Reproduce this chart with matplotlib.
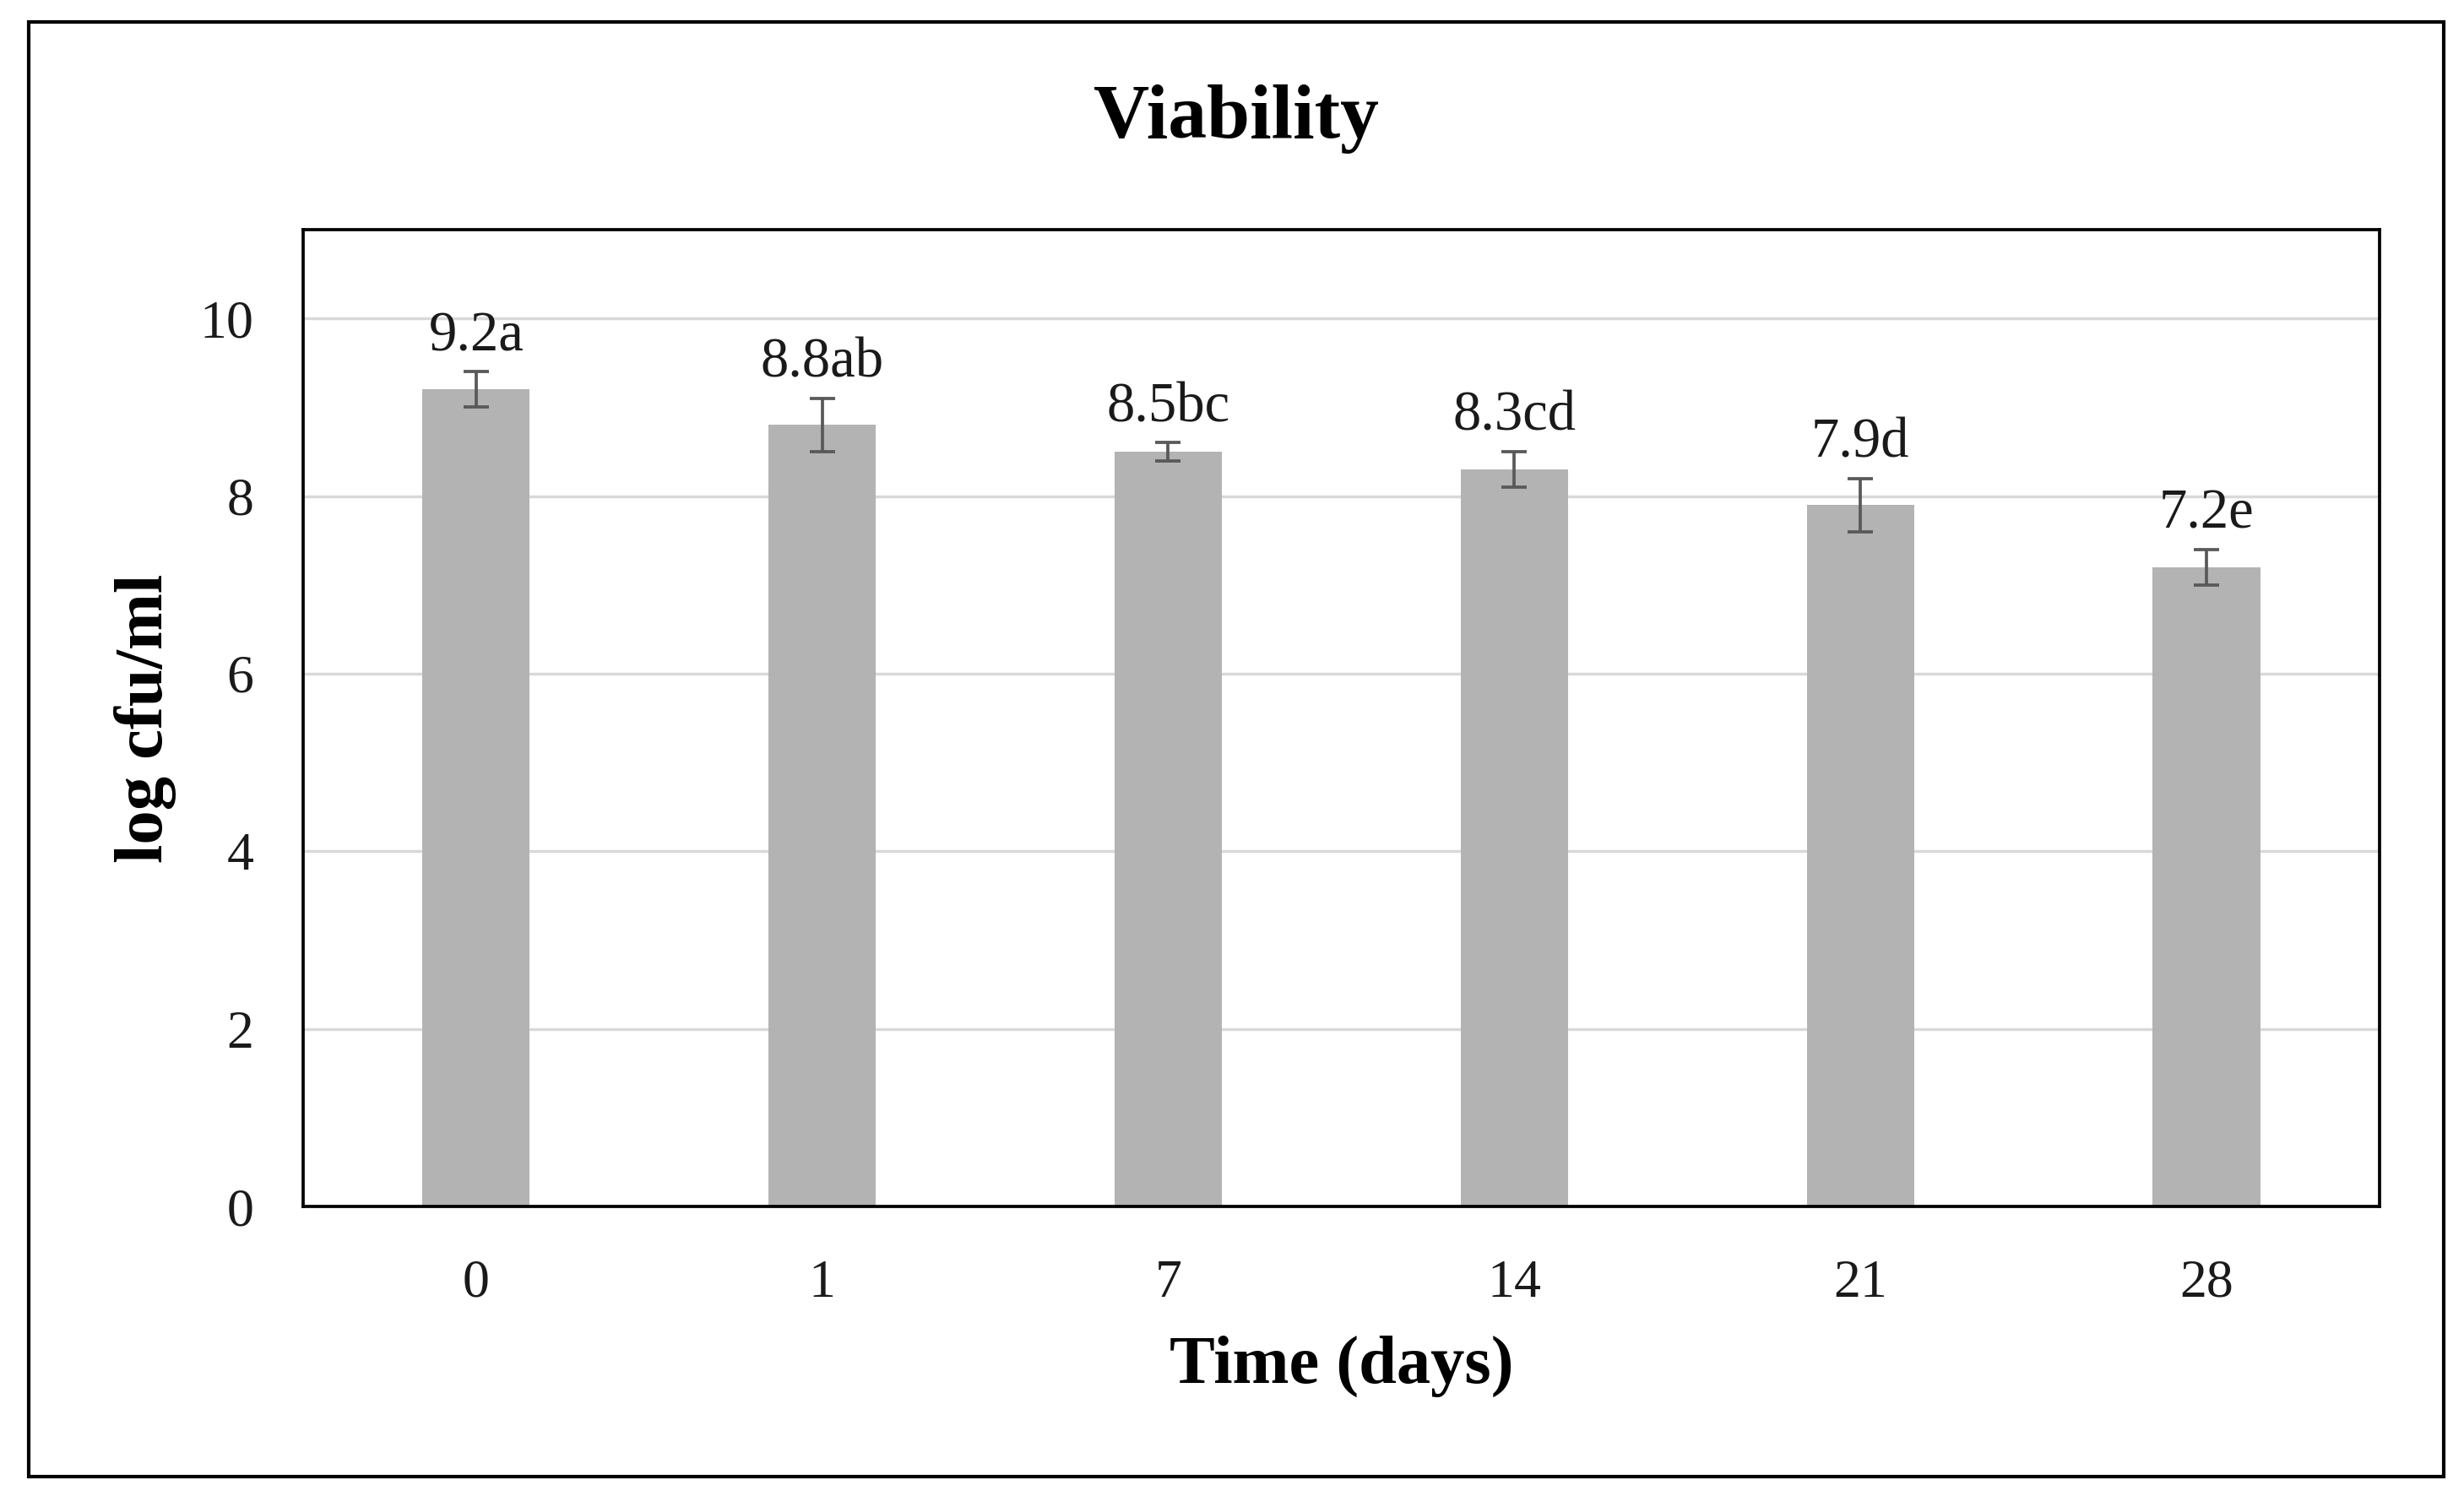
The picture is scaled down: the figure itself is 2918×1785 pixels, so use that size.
import matplotlib
matplotlib.use("Agg")
import matplotlib.pyplot as plt
from matplotlib.patches import Rectangle

categories = ["0", "1", "7", "14", "21", "28"]
values = [9.2, 8.8, 8.5, 8.3, 7.9, 7.2]
errors = [0.2, 0.3, 0.1, 0.2, 0.3, 0.2]
letters = ["a", "ab", "bc", "cd", "d", "e"]
yticks = [0, 2, 4, 6, 8, 10]

plt.rcParams['font.family'] = ['Liberation Serif', 'DejaVu Serif']

fig = plt.figure(figsize=(29.18, 17.85), dpi=100)
ax = fig.add_axes([0.123, 0.1994, 0.8427, 0.6482])

x = list(range(len(categories)))
ax.bar(x, values, width=0.31, color="#b3b3b3", zorder=2)
ax.errorbar(x, values, yerr=errors, fmt="none", ecolor="#595959",
            elinewidth=2.7, capsize=11, capthick=2.7, zorder=3)

for xi, v, e, l in zip(x, values, errors, letters):
    ax.annotate(f"{v:.1f}{l}", xy=(xi, v + e), xytext=(0, 18),
                textcoords="offset points", ha="center", va="baseline",
                fontsize=48, color="#1a1a1a")

ax.set_xlim(-0.5, len(categories) - 0.5)
ax.set_ylim(0, 11)
ax.set_yticks(yticks)
ax.set_xticks(x)
ax.set_xticklabels(categories)
ax.yaxis.grid(True, color="#d9d9d9", linewidth=2.5, zorder=0)
ax.set_axisbelow(True)
ax.tick_params(axis="both", length=0, labelsize=46, labelcolor="#1a1a1a")
ax.tick_params(axis="x", pad=45)
ax.tick_params(axis="y", pad=42)
for s in ax.spines.values():
    s.set_linewidth(2.7)
    s.set_color("black")

ax.set_xlabel("Time (days)", fontsize=58, fontweight="bold")
ax.set_ylabel("log cfu/ml", fontsize=58, fontweight="bold")
ax.xaxis.set_label_coords(0.5, -0.132)
ax.yaxis.set_label_coords(-0.061, 0.5)

fig.text(0.5018, 0.921, "Viability", ha="center", va="center",
         fontsize=66, fontweight="bold")

fig.patches.append(Rectangle((33.5 / 2918, 1 - 1749 / 1785),
                             (2894 - 33.5) / 2918, (1749 - 26) / 1785,
                             transform=fig.transFigure, fill=False,
                             edgecolor="black", linewidth=3))

fig.savefig("out.png", dpi=100)
